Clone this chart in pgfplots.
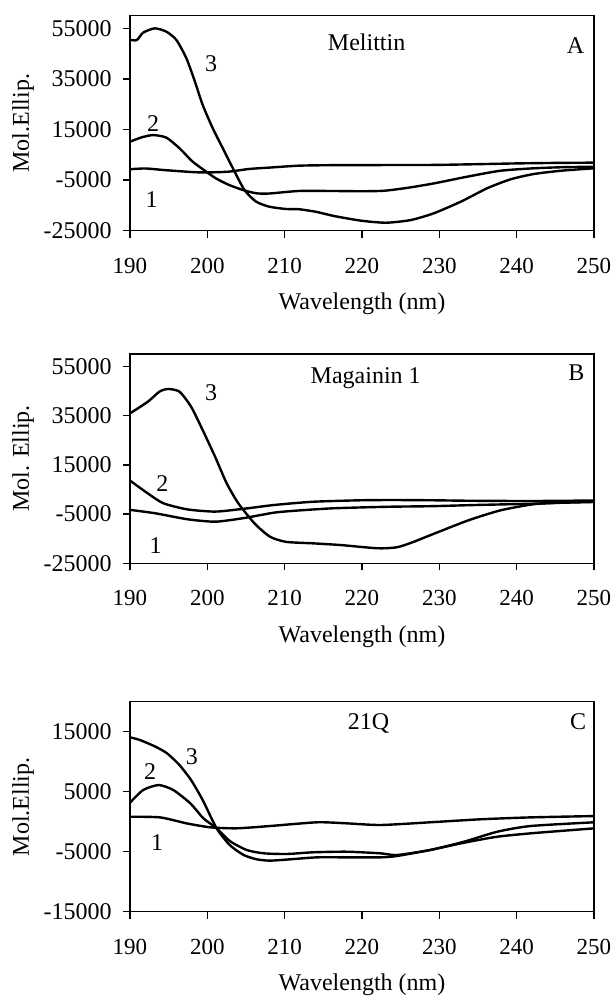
\documentclass[border=0pt]{standalone}
\usepackage{pgfplots}
\pgfplotsset{compat=1.18}
\usepackage{fontspec}
\setmainfont{Liberation Serif}

\tikzset{tagnode/.style={font=\fontsize{12}{13}\selectfont, inner sep=0pt}}

\pgfplotsset{
  cdpanel/.style={
    scale only axis,
    anchor=south west,
    width=232pt,
    xmin=190, xmax=250,
    xtick={190,200,...,250},
    xticklabels={190,200,210,220,230,240,250},
    scaled ticks=false,
    tick align=outside,
    major tick length=3.5pt,
    xtick pos=bottom, ytick pos=left,
    axis line style={line width=0.7pt},
    every tick/.style={black, line width=0.7pt},
    xticklabel style={anchor=north, inner sep=0pt, yshift=-10pt, font=\fontsize{11.5}{12}\selectfont},
    yticklabel style={anchor=east, inner sep=0pt, xshift=-5.5pt, font=\fontsize{12}{13}\selectfont},
    every axis x label/.style={at={(axis description cs:0.5,0)}, anchor=north, inner sep=0pt,
                  yshift=-31pt, font=\fontsize{12}{13}\selectfont},
    every axis y label/.style={at={(axis description cs:0,0.5)}, xshift=-53.5pt, rotate=90,
                  anchor=center, inner sep=0pt, font=\fontsize{12}{13}\selectfont},
    xlabel={Wavelength (nm)},
    every axis plot post/.append style={black, line width=1.2pt, smooth, tension=0.4, mark=none},
  },
}

\begin{document}
\begin{tikzpicture}
\useasboundingbox (0,0) rectangle (307.5pt,498pt);

% ---- A: Melittin
\begin{axis}[cdpanel, at={(65pt,382.65pt)}, height=107.5pt,
  ymin=-25000, ymax=60000,
  ytick={-25000,-5000,15000,35000,55000},
  yticklabels={-25000,-5000,15000,35000,55000},
  ylabel={Mol.Ellip.}]
% 1
\addplot coordinates {(190,-700) (192,-400) (194.3,-1000) (196.5,-1500) (198.6,-1900)
  (200.3,-1950) (202.8,-1650) (205.4,-600) (208,-60) (211.8,700) (216,900) (222,950)
  (229.3,1000) (235,1300) (240,1600) (245,1800) (250,1900)};
% 2
\addplot coordinates {(190,10200) (191.5,11900) (193,12800) (194.7,11800) (196.4,7600)
  (198.1,2300) (199.85,-1650) (201.1,-4300) (202.8,-6900) (204.6,-8900) (206.3,-10200)
  (208,-10300) (211.8,-9300) (216,-9300) (220,-9400) (222.9,-9200) (226,-8000)
  (229.3,-6300) (233.6,-3650) (237.9,-1300) (242.2,-330) (246,100) (250,300)};
% 3
\addplot coordinates {(190,50400) (190.9,50400) (191.7,53300) (193.2,55000) (194.7,53700)
  (196,50400) (197.3,43100) (198.4,33900) (199.4,24700) (200.7,15500) (202,7600)
  (203.3,-300) (204.8,-8900) (206.3,-13500) (208,-15500) (210.1,-16400) (211.8,-16500)
  (214,-17500) (216.4,-19200) (219.9,-21050) (223.1,-21850) (226.3,-20800)
  (229.3,-18100) (232.8,-13500) (236.2,-8200) (239.2,-4700) (242.2,-2600)
  (245.7,-1300) (250,-330)};
\node[tagnode] at (axis cs:192.8,-12850) {1};
\node[tagnode] at (axis cs:193,17470) {2};
\node[tagnode] at (axis cs:200.5,41180) {3};
\node[tagnode, anchor=base] at (axis description cs:0.51,0.838) {Melittin};
\node[tagnode, anchor=base] at (axis description cs:0.96,0.825) {A};
\end{axis}

% ---- B: Magainin 1
\begin{axis}[cdpanel, at={(65pt,216.35pt)}, height=104.65pt,
  ymin=-25000, ymax=60000,
  ytick={-25000,-5000,15000,35000,55000},
  yticklabels={-25000,-5000,15000,35000,55000},
  ylabel={Mol. Ellip.}]
% 1
\addplot coordinates {(190,-3300) (193.3,-4700) (197.4,-7100) (201,-8100) (204.6,-6700)
  (208.7,-4400) (212,-3500) (216,-2700) (220,-2300) (224,-2000) (229,-1800)
  (235,-1300) (242,-800) (246,-400) (250,-100)};
% 2
\addplot coordinates {(190,8600) (192.3,3400) (194.3,-600) (197.4,-3100) (201,-4000)
  (204.6,-2900) (208.7,-1300) (213.7,0) (219.9,600) (224,700) (229,600) (234,400)
  (242,300) (250,500)};
% 3
\addplot coordinates {(190,35900) (192.3,40600) (193.8,44700) (194.9,45800) (196.4,44700)
  (197.9,38600) (199.4,29100) (201,18300) (202.5,7500) (204,-600) (206.1,-8800)
  (208.1,-14200) (210.2,-16300) (213.7,-16900) (217.3,-17600) (222,-18900)
  (224.5,-18500) (226.5,-16500) (229.3,-13000) (233.8,-7500) (237.9,-3500)
  (242.2,-1000) (246,-300) (250,0)};
\node[tagnode] at (axis cs:193.3,-18000) {1};
\node[tagnode] at (axis cs:194.2,7500) {2};
\node[tagnode] at (axis cs:200.5,44300) {3};
\node[tagnode, anchor=base] at (axis description cs:0.508,0.86) {Magainin 1};
\node[tagnode, anchor=base] at (axis description cs:0.962,0.873) {B};
\end{axis}

% ---- C: 21Q
\begin{axis}[cdpanel, at={(65pt,42.15pt)}, height=105pt,
  ymin=-15000, ymax=20000,
  ytick={-15000,-5000,5000,15000},
  yticklabels={-15000,-5000,5000,15000},
  ylabel={Mol.Ellip.}]
% 1
\addplot coordinates {(190,830) (193.9,720) (197.3,-270) (200.4,-940) (203.8,-1100)
  (208.1,-720) (214.2,-100) (218,-270) (222.4,-550) (228.8,-100) (235.3,400)
  (241.8,720) (250,940)};
% 2
\addplot coordinates {(190,3170) (191.7,5280) (193.7,6110) (195.6,5280) (197.8,3060)
  (199.5,560) (201.2,-1100) (202.9,-3220) (205.1,-4720) (207.3,-5270) (210.3,-5380)
  (213.7,-5100) (218,-5000) (222.4,-5270) (224.5,-5550) (228.8,-4720) (233.2,-3330)
  (237.5,-1670) (241.8,-720) (250,-100)};
% 3
\addplot coordinates {(190,14060) (191.3,13610) (193.3,12500) (194.8,11390) (196.4,9440)
  (197.9,6940) (199.4,3610) (201.2,-1100) (202.9,-3890) (204.7,-5550) (206.4,-6270)
  (208.1,-6490) (210.7,-6270) (214.2,-5940) (218,-5940) (222.4,-5940) (224.5,-5720)
  (228.8,-4720) (233.2,-3500) (237.5,-2500) (241.8,-1940) (246.1,-1500) (250,-1110)};
\node[tagnode] at (axis cs:193.5,-3400) {1};
\node[tagnode] at (axis cs:192.6,8400) {2};
\node[tagnode] at (axis cs:198,10830) {3};
\node[tagnode, anchor=base] at (axis description cs:0.514,0.87) {21Q};
\node[tagnode, anchor=base] at (axis description cs:0.966,0.87) {C};
\end{axis}
\end{tikzpicture}
\end{document}
